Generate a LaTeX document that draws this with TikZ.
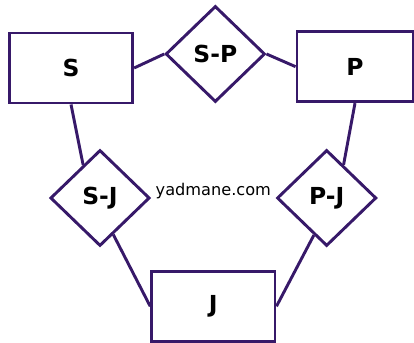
\documentclass[tikz,border=0pt]{standalone}
\usepackage{fontspec}
\setmainfont{DejaVu Sans}
\usetikzlibrary{shapes.geometric}
\definecolor{erline}{RGB}{55,25,105}

\begin{document}
\begin{tikzpicture}[
		entity/.style={draw=erline,line width=2.5pt,minimum width=3.7cm,minimum height=2.1cm,font=\fontsize{20}{24}\selectfont\bfseries},
		relation/.style={draw=erline,line width=2.5pt,shape=diamond,inner sep=0pt,minimum width=2.98cm,minimum height=2.88cm,font=\fontsize{20}{24}\selectfont\bfseries},
		link/.style={draw=erline,line width=2.5pt}]

		\useasboundingbox (0,0) rectangle (12.42,10.29);

		\node[entity] (S) at (2.13,8.25) {S};
		\node[entity,minimum width=3.48cm] (P) at (10.65,8.29) {P};
		\node[entity] (J) at (6.4,1.1) {J};

		\node[relation] (SP) at (6.46,8.67) {S-P};
		\node[relation] (SJ) at (3.0,4.35) {S-J};
		\node[relation] (PJ) at (9.8,4.35) {P-J};

		\node[font=\fontsize{13.8}{16}\selectfont] (Site) at (6.4,4.55) {yadmane.com};

		\draw[link] (S.east) to (SP.west);
		\draw[link] (SP.east) to (P.west);

		\draw[link] (S.south) to (SJ.117);
		\draw[link] (P.south) to (PJ.63);

		\draw[link] (SJ.290) to (J.west);
		\draw[link] (PJ.251) to (J.east);
\end{tikzpicture}
\end{document}
